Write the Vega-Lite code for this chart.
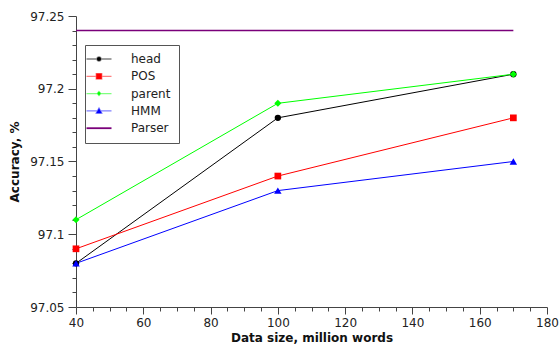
{
  "$schema": "https://vega.github.io/schema/vega-lite/v6.json",
  "width": 471,
  "height": 291,
  "autosize": {"type": "none"},
  "padding": {"left": 76, "top": 16, "right": 13, "bottom": 40},
  "background": "white",
  "config": {"view": {"stroke": null}, "font": "DejaVu Sans"},
  "data": {
    "values": [
      {"series": "head", "x": 40, "y": 97.08},
      {"series": "head", "x": 100, "y": 97.18},
      {"series": "head", "x": 170, "y": 97.21},
      {"series": "POS", "x": 40, "y": 97.09},
      {"series": "POS", "x": 100, "y": 97.14},
      {"series": "POS", "x": 170, "y": 97.18},
      {"series": "parent", "x": 40, "y": 97.11},
      {"series": "parent", "x": 100, "y": 97.19},
      {"series": "parent", "x": 170, "y": 97.21},
      {"series": "HMM", "x": 40, "y": 97.08},
      {"series": "HMM", "x": 100, "y": 97.13},
      {"series": "HMM", "x": 170, "y": 97.15},
      {"series": "Parser", "x": 40, "y": 97.24},
      {"series": "Parser", "x": 170, "y": 97.24}
    ]
  },
  "encoding": {
    "x": {
      "field": "x",
      "type": "quantitative",
      "scale": {"domain": [40, 180], "nice": false, "zero": false},
      "axis": {
        "title": "Data size, million words",
        "values": [40, 45, 50, 55, 60, 65, 70, 75, 80, 85, 90, 95, 100, 105, 110, 115, 120, 125, 130, 135, 140, 145, 150, 155, 160, 165, 170, 175, 180],
        "labelExpr": "datum.value % 20 === 0 ? datum.label : ''",
        "tickSize": {"condition": {"test": "datum.value % 20 === 0", "value": 7}, "value": 4},
        "grid": false,
        "domainColor": "#444",
        "tickColor": "#444",
        "labelFontSize": 12,
        "labelColor": "#222",
        "labelPadding": 3,
        "labelOverlap": false,
        "labelFlush": false,
        "titleFontSize": 12,
        "titleFontWeight": "bold",
        "titleColor": "#111",
        "titlePadding": 4
      }
    },
    "y": {
      "field": "y",
      "type": "quantitative",
      "scale": {"domain": [97.05, 97.25], "nice": false, "zero": false},
      "axis": {
        "title": "Accuracy, %",
        "values": [97.05, 97.06, 97.07, 97.08, 97.09, 97.1, 97.11, 97.12, 97.13, 97.14, 97.15, 97.16, 97.17, 97.18, 97.19, 97.2, 97.21, 97.22, 97.23, 97.24, 97.25],
        "labelExpr": "abs(datum.value * 20 - round(datum.value * 20)) < 0.001 ? format(datum.value, '~g') : ''",
        "tickSize": {"condition": {"test": "abs(datum.value * 20 - round(datum.value * 20)) < 0.001", "value": 8}, "value": 4},
        "grid": false,
        "domainColor": "#444",
        "tickColor": "#444",
        "labelFontSize": 12,
        "labelColor": "#222",
        "labelPadding": 4,
        "labelOverlap": false,
        "labelFlush": false,
        "titleFontSize": 12,
        "titleFontWeight": "bold",
        "titleColor": "#111",
        "titlePadding": 8
      }
    },
    "color": {
      "field": "series",
      "type": "nominal",
      "scale": {
        "domain": ["head", "POS", "parent", "HMM", "Parser"],
        "range": ["#000000", "#ff0000", "#00ff00", "#0000ff", "#7a007a"]
      },
      "legend": {
        "title": null,
        "orient": "none",
        "legendX": 9,
        "legendY": 29,
        "padding": 8,
        "strokeColor": "#555",
        "fillColor": "white",
        "symbolSize": 100,
        "symbolStrokeWidth": 1.3,
        "labelFontSize": 12,
        "labelColor": "#222",
        "labelOffset": 26,
        "rowPadding": 5.3,
        "encode": {
          "symbols": {
            "update": {
              "shape": {"signal": "datum.value === 'head' ? 'M-2.5,0H2.5M-0.4,0A0.4,0.4,0,1,0,0.4,0A0.4,0.4,0,1,0,-0.4,0Z' : datum.value === 'POS' ? 'M-2.5,0H2.5M-0.55,-0.55H0.55V0.55H-0.55Z' : datum.value === 'parent' ? 'M-2.5,0H2.5M0,-0.4L0.35,0L0,0.4L-0.35,0Z' : datum.value === 'HMM' ? 'M-2.5,0H2.5M0,-0.55L0.55,0.45H-0.55Z' : 'M-2.5,0H2.5'"},
              "fill": {"scale": "color", "field": "value"},
              "stroke": {"scale": "color", "field": "value"},
              "strokeWidth": {"signal": "datum.value === 'Parser' ? 1.8 : 1.3"},
              "opacity": {"value": 1},
              "fillOpacity": {"value": 1},
              "strokeOpacity": {"signal": "datum.value === 'Parser' ? 1 : 0.5"}
            }
          }
        }
      }
    },
    "strokeWidth": {
      "condition": {"test": "datum.series === 'Parser'", "value": 1.6},
      "value": 1
    }
  },
  "layer": [
    {"mark": {"type": "line"}},
    {
      "transform": [{"filter": "datum.series !== 'Parser'"}],
      "mark": {"type": "point", "filled": true, "opacity": 1},
      "encoding": {
        "strokeWidth": {"value": 0},
        "shape": {
          "field": "series",
          "type": "nominal",
          "scale": {"domain": ["head", "POS", "parent", "HMM"], "range": ["circle", "square", "diamond", "triangle-up"]},
          "legend": null
        },
        "size": {
          "field": "series",
          "type": "nominal",
          "scale": {"domain": ["head", "POS", "parent", "HMM"], "range": [40, 55, 30, 45]},
          "legend": null
        }
      }
    }
  ]
}
